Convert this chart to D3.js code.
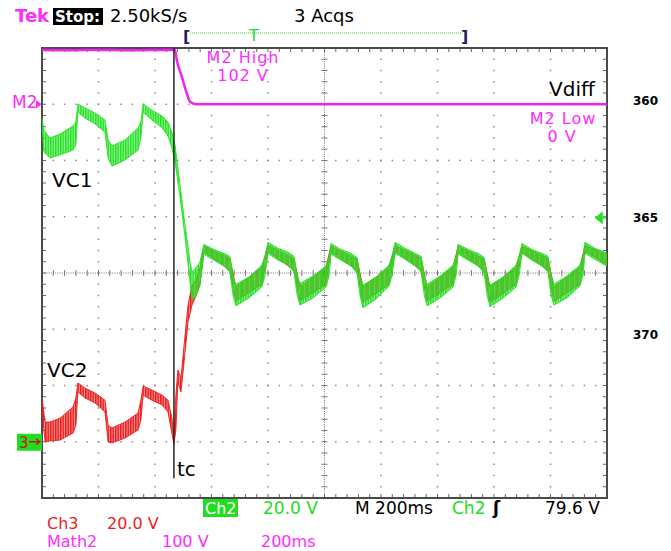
<!DOCTYPE html>
<html lang="en">
<head>
<meta charset="UTF-8" />
<title>VC1 / VC2 capture</title>
<script src="https://d3js.org/d3.v7.min.js"></script>
<style>
  body { margin: 0; background: #fff; }
  svg text { font-family: "DejaVu Sans", sans-serif; }
</style>
</head>
<body>
<svg width="671" height="551"></svg>
<script>
// time in ms from left edge of screen (200 ms/div, 10 div)
// Ch2 = VC1 and Ch3 = VC2 in volts (20 V/div), Math2 = Vdiff in volts (100 V/div)
// the noisy traces are kept as upper / lower envelopes of the ripple band
const vc1Time = [0, 7, 28, 64, 110, 120, 127, 152, 188, 223, 234, 248, 294, 340, 350, 358, 389, 425, 446, 460, 471, 489, 506, 524, 531, 545, 559,
  573, 608, 644, 665, 676, 686, 732, 778, 789,
  800, 835, 871, 892, 903, 913, 959, 1005, 1016,
  1023, 1058, 1094, 1115, 1126, 1136, 1182, 1228, 1239,
  1250, 1285, 1321, 1342, 1353, 1363, 1409, 1455, 1466,
  1473, 1508, 1544, 1565, 1576, 1586, 1632, 1678, 1689,
  1699, 1734, 1770, 1791, 1802, 1812, 1858, 1904, 1915,
  1922, 1957, 1993, 2000];
const vc1High = [115.1, 110.8, 108.0, 109.4, 112.3, 113.7, 120.1, 118.7, 116.9, 114.4, 107.3, 105.2, 107.3, 111.6, 113.7, 120.1, 117.9, 115.8, 113.7, 110.1, 105.5, 90.9, 77.4, 63.9, 60.4, 61.8, 63.9,
  70.2, 68.4, 67.0, 65.9, 59.2, 56.0, 58.5, 62.8, 65.9,
  70.9, 68.8, 67.4, 65.9, 59.2, 56.3, 58.9, 62.5, 65.6,
  70.5, 68.4, 67.0, 65.5, 58.9, 55.7, 58.5, 62.8, 66.0,
  70.9, 68.8, 67.0, 65.9, 59.2, 56.0, 58.9, 62.8, 65.9,
  70.2, 68.4, 67.0, 65.5, 58.9, 55.7, 58.5, 62.8, 66.0,
  70.5, 68.4, 67.0, 65.9, 59.2, 56.0, 58.9, 62.8, 66.0,
  70.9, 68.8, 67.4, 67.0];
const vc1Low = [112.6, 103.0, 100.9, 102.0, 103.7, 105.5, 117.2, 115.1, 113.0, 110.1, 100.9, 98.0, 100.2, 103.7, 108.0, 117.2, 114.4, 111.6, 108.7, 104.4, 99.5, 86.7, 73.2, 56.8, 50.4, 51.8, 55.7,
  66.7, 64.6, 62.5, 60.4, 52.2, 48.3, 51.1, 55.0, 58.9,
  67.0, 64.6, 62.8, 60.4, 52.2, 48.6, 51.1, 55.0, 58.9,
  66.7, 64.6, 62.5, 60.0, 51.8, 47.6, 50.7, 55.4, 59.2,
  67.0, 64.9, 62.5, 60.4, 52.2, 48.3, 51.1, 55.0, 59.2,
  66.7, 64.6, 62.5, 60.0, 51.8, 48.0, 51.1, 55.0, 59.2,
  67.0, 64.6, 62.5, 60.4, 52.2, 48.6, 51.1, 55.4, 59.2,
  67.0, 64.9, 62.8, 62.5];

const vc2Time = [0, 11, 28, 64, 110, 120, 127, 152, 188, 223, 234, 248, 294, 340, 350, 358, 389, 425, 446, 460, 467, 474, 481, 492, 503, 517, 531, 545, 559,
  573, 665, 686, 778, 800, 892, 913, 1005, 1023, 1115, 1136, 1228, 1250, 1342, 1363, 1455,
  1473, 1565, 1586, 1678, 1699, 1791, 1812, 1904, 1922, 2000];
const vc2High = [15.6, 7.0, 7.0, 8.4, 12.4, 15.6, 20.9, 19.1, 17.3, 14.8, 5.9, 4.9, 7.0, 10.2, 14.8, 19.8, 18.4, 16.6, 14.8, 8.4, 2.0, 16.6, 25.5, 22.7, 34.4, 48.6, 55.7, 57.5, 61.8,
  69.5, 65.2, 55.0, 62.0, 69.8, 65.2, 55.0, 62.0, 69.5, 65.0, 55.0, 62.0, 69.8, 65.2, 55.0, 62.0,
  69.5, 65.0, 55.0, 62.0, 69.5, 65.2, 55.0, 62.0, 69.8, 66.5];
const vc2Low = [11.3, -0.1, 0.3, 0.6, 3.1, 5.9, 17.7, 15.6, 13.8, 10.6, -0.1, -0.4, 1.3, 4.2, 7.7, 16.6, 14.8, 13.1, 10.6, 2.8, -0.8, 4.2, 21.3, 17.7, 28.4, 42.6, 48.6, 51.8, 55.7,
  67.5, 61.0, 50.0, 56.0, 67.8, 61.0, 50.0, 56.0, 67.5, 61.0, 49.5, 56.0, 67.8, 61.0, 50.0, 56.0,
  67.5, 61.0, 49.5, 56.0, 67.5, 61.0, 50.0, 56.0, 67.8, 63.0];

const m2Time = [0, 100, 200, 300, 400, 471, 477, 495, 512, 524, 548, 2000];
const m2Volts = [96.4, 96.0, 96.6, 96.0, 96.4, 96.4, 78.7, 49.0, 20.0, 4.5, 0, 0];

const tcTime = 467;        // switching instant
const triggerLevel = 79.6; // Ch2 trigger, volts
const lineNumbers = ["360", "365", "370"];

const svg = d3.select("svg");
const plot = { left: 42, right: 607, top: 48, bottom: 498 };
const x = d3.scaleLinear().domain([0, 2000]).range([plot.left, plot.right]);
const yDiv = d3.scaleLinear().domain([-4, 4]).range([plot.bottom, plot.top]);
const chOffset = -3.0, chScale = 20;
const m2Offset = 3.0, m2Scale = 100;
const yCh = v => yDiv(chOffset + v / chScale);
const yM2 = v => yDiv(m2Offset + v / m2Scale);

const GREEN = "#22e322", RED = "#ee1b1b", MAGENTA = "#f222f2";
const TXT_GREEN = "#1fdc1f", TXT_RED = "#ee1c1c", TXT_MAG = "#ff2bff";

const defs = svg.append("defs");
defs.append("clipPath").attr("id", "clip")
  .append("rect").attr("x", plot.left).attr("y", plot.top)
  .attr("width", plot.right - plot.left).attr("height", plot.bottom - plot.top);
// ripple texture: dense vertical strokes over a paler wash
function stripes(id, color) {
  const p = defs.append("pattern").attr("id", id)
    .attr("patternUnits", "userSpaceOnUse").attr("width", 2.5).attr("height", 8);
  p.append("rect").attr("width", 2.5).attr("height", 8).attr("fill", color).attr("opacity", 0.45);
  p.append("rect").attr("width", 1.5).attr("height", 8).attr("fill", color);
}
stripes("gNoise", GREEN);
stripes("rNoise", RED);

// ---- graticule
const grid = svg.append("g");
const minorDiv = d3.range(-4, 4.001, 0.2);
const minorT = d3.range(0, 2000.1, 40);
const dots = [];
d3.range(1, 10).filter(i => i !== 5).forEach(i => minorDiv.forEach(v => dots.push([i * 200, v])));
d3.range(-3, 4).filter(j => j !== 0).forEach(j => minorT.forEach(t => dots.push([t, j])));
grid.selectAll("rect.dot").data(dots).enter().append("rect")
  .attr("class", "dot")
  .attr("x", d => x(d[0]) - 0.75).attr("y", d => yDiv(d[1]) - 0.75)
  .attr("width", 1.5).attr("height", 1.5).attr("fill", "#8a8a8a");

// center cross, dense dotted with minor ticks
grid.append("line").attr("x1", plot.left).attr("x2", plot.right)
  .attr("y1", yDiv(0)).attr("y2", yDiv(0))
  .attr("stroke", "#777").attr("stroke-dasharray", "1,1.2");
grid.append("line").attr("x1", x(1000)).attr("x2", x(1000))
  .attr("y1", plot.top).attr("y2", plot.bottom)
  .attr("stroke", "#777").attr("stroke-dasharray", "1,1.2");
grid.selectAll("line.ct").data(minorT).enter().append("line").attr("class", "ct")
  .attr("x1", d => x(d)).attr("x2", d => x(d))
  .attr("y1", yDiv(0) - 3).attr("y2", yDiv(0) + 3).attr("stroke", "#777");
grid.selectAll("line.cv").data(minorDiv).enter().append("line").attr("class", "cv")
  .attr("y1", d => yDiv(d)).attr("y2", d => yDiv(d))
  .attr("x1", x(1000) - 3).attr("x2", x(1000) + 3).attr("stroke", "#777");

// border ticks
grid.selectAll("line.bt").data(minorT).enter().append("line").attr("class", "bt")
  .attr("x1", d => x(d)).attr("x2", d => x(d))
  .attr("y1", plot.top).attr("y2", plot.top + 4).attr("stroke", "#666");
grid.selectAll("line.bb").data(minorT).enter().append("line").attr("class", "bb")
  .attr("x1", d => x(d)).attr("x2", d => x(d))
  .attr("y1", plot.bottom - 4).attr("y2", plot.bottom).attr("stroke", "#666");
grid.selectAll("line.bl").data(minorDiv).enter().append("line").attr("class", "bl")
  .attr("y1", d => yDiv(d)).attr("y2", d => yDiv(d))
  .attr("x1", plot.left).attr("x2", plot.left + 4).attr("stroke", "#666");
grid.selectAll("line.br").data(minorDiv).enter().append("line").attr("class", "br")
  .attr("y1", d => yDiv(d)).attr("y2", d => yDiv(d))
  .attr("x1", plot.right - 4).attr("x2", plot.right).attr("stroke", "#666");

grid.append("rect").attr("x", plot.left).attr("y", plot.top)
  .attr("width", plot.right - plot.left).attr("height", plot.bottom - plot.top)
  .attr("fill", "none").attr("stroke", "#4a4a4a").attr("stroke-width", 2);

// ---- traces
const traces = svg.append("g").attr("clip-path", "url(#clip)");
const vc1 = vc1Time.map((t, i) => ({ t, hi: vc1High[i], lo: vc1Low[i] }));
const vc2 = vc2Time.map((t, i) => ({ t, hi: vc2High[i], lo: vc2Low[i] }));
const band = d3.area().x(d => x(d.t)).y0(d => yCh(d.lo)).y1(d => yCh(d.hi));

traces.append("path").datum(vc2).attr("d", band)
  .attr("fill", "url(#rNoise)").attr("stroke", RED).attr("stroke-width", 0.9);
traces.append("path").datum(vc1).attr("d", band)
  .attr("fill", "url(#gNoise)").attr("stroke", GREEN).attr("stroke-width", 0.9);

const m2 = m2Time.map((t, i) => ({ t, v: m2Volts[i] }));
traces.append("path").datum(m2)
  .attr("d", d3.line().x(d => x(d.t)).y(d => yM2(d.v)).curve(d3.curveMonotoneX))
  .attr("fill", "none").attr("stroke", MAGENTA).attr("stroke-width", 2.5);

// tc cursor
svg.append("line").attr("x1", x(tcTime)).attr("x2", x(tcTime))
  .attr("y1", plot.top).attr("y2", yDiv(-3.65))
  .attr("stroke", "#222").attr("stroke-width", 1.5);

// ---- labels inside the screen
function label(txt, px, py, opts = {}) {
  return svg.append("text").attr("x", px).attr("y", py).text(txt)
    .attr("font-size", opts.size || 17)
    .attr("fill", opts.color || "#000")
    .attr("font-weight", opts.weight || "normal")
    .attr("text-anchor", opts.anchor || "start")
    .attr("letter-spacing", opts.ls || 0);
}
label("M2 High", 243, 63, { color: TXT_MAG, anchor: "middle", size: 16, ls: 1 });
label("102 V", 243, 81, { color: TXT_MAG, anchor: "middle", size: 16, ls: 1 });
label("M2 Low", 563, 124, { color: TXT_MAG, anchor: "middle", size: 16, ls: 1 });
label("0 V", 562, 142, { color: TXT_MAG, anchor: "middle", size: 16, ls: 1 });
label("Vdiff", 549, 96, { size: 20 });
label("VC1", 52, 187, { size: 20 });
label("VC2", 47, 377, { size: 20 });
label("tc", 177, 476, { size: 20 });

// markers on the left / right edges
label("M2", 12, 108, { color: TXT_MAG, size: 17 });
svg.append("path")
  .attr("d", `M36,${yM2(0) - 4}L42,${yM2(0)}L36,${yM2(0) + 4}Z`)
  .attr("fill", TXT_MAG);
const g0 = yCh(0);
svg.append("rect").attr("x", 17).attr("y", g0 - 8).attr("width", 25).attr("height", 17).attr("fill", "#22dd22");
label("3", 19, g0 + 6, { color: "#c81414", size: 15 });
svg.append("path").attr("d", `M29,${g0}H40M36,${g0 - 3}L40,${g0}L36,${g0 + 3}`)
  .attr("stroke", "#c81414").attr("stroke-width", 1.3).attr("fill", "none");
const yt = yCh(triggerLevel);
svg.append("path").attr("d", `M596,${yt}L602,${yt - 5}L602,${yt + 5}Z M601,${yt}H606`)
  .attr("fill", GREEN).attr("stroke", GREEN).attr("stroke-width", 1.5);

lineNumbers.forEach((n, i) => label(n, 633, [105, 222, 339][i], { size: 12, weight: "bold" }));

// ---- status line
label("Tek", 15, 22, { color: TXT_MAG, size: 18, weight: "bold" });
svg.append("rect").attr("x", 53).attr("y", 8).attr("width", 50).attr("height", 17).attr("fill", "#000");
label("Stop:", 55, 22, { color: "#fff", size: 15, weight: "bold" });
label("2.50kS/s", 110, 22, { size: 18 });
label("3 Acqs", 294, 22, { size: 18 });
svg.append("line").attr("x1", 190).attr("x2", 462).attr("y1", 33).attr("y2", 33)
  .attr("stroke", "#33cc33").attr("stroke-dasharray", "1,1");
label("[", 183, 42, { color: "#1e1e5a", size: 16, weight: "bold" });
label("]", 461, 42, { color: "#1e1e5a", size: 16, weight: "bold" });
label("T", 254, 41, { color: "#2bd42b", size: 16, anchor: "middle" });

// ---- bottom readout
svg.append("rect").attr("x", 203).attr("y", 499).attr("width", 35).attr("height", 18).attr("fill", "#22dd22");
label("Ch2", 205, 514, { color: "#fff", size: 16 });
label("20.0 V", 263, 514, { color: TXT_GREEN });
label("M 200ms", 355, 514);
label("Ch2", 452, 514, { color: TXT_GREEN });
label("ʃ", 493, 514, { weight: "bold" });
label("79.6 V", 545, 514);
label("Ch3", 47, 529, { color: TXT_RED, size: 16 });
label("20.0 V", 107, 529, { color: TXT_RED, size: 16 });
label("Math2", 47, 547, { color: TXT_MAG, size: 16 });
label("100 V", 162, 547, { color: TXT_MAG, size: 16 });
label("200ms", 261, 547, { color: TXT_MAG, size: 16 });
</script>
</body>
</html>
